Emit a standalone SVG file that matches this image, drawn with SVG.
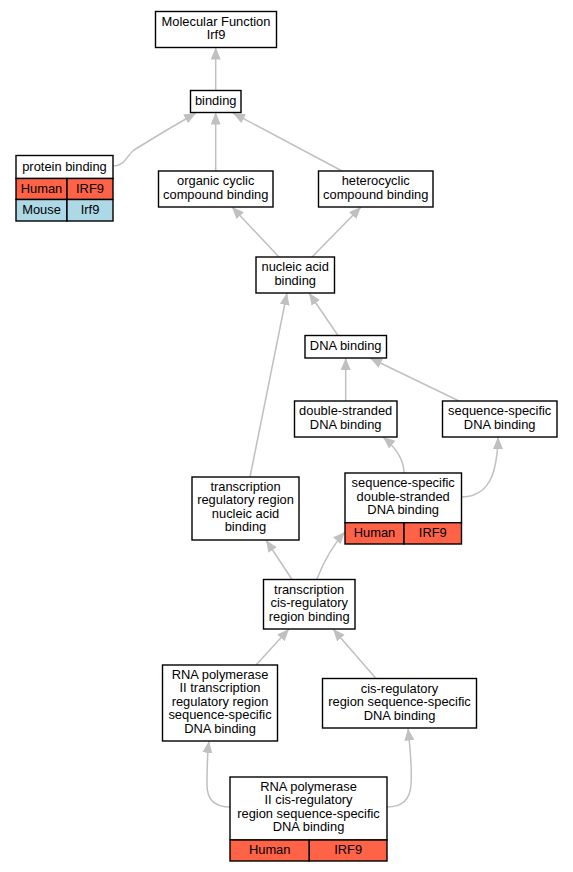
<svg xmlns="http://www.w3.org/2000/svg" width="573" height="872" viewBox="0 0 573 872">
<defs>
<marker id="ah" markerUnits="userSpaceOnUse" markerWidth="13" markerHeight="11" refX="12" refY="5" orient="auto">
<path d="M0,0 L12,5 L0,10 z" fill="#c0c0c0"/>
</marker>
<style>
.n rect{fill:#fff;stroke:#000;stroke-width:1.4}
.n rect.h{fill:#ff6347}
.n rect.m{fill:#add8e6}
text{font-family:"Liberation Sans",Arial,sans-serif;font-size:12.9px;text-anchor:middle;fill:#000}
#edges path{fill:none;stroke:#c0c0c0;stroke-width:1.5;marker-end:url(#ah)}
</style>
</defs>
<rect width="573" height="872" fill="#fff"/>
<g id="edges">
<path d="M215.7,90.5 L215.7,47.5"/>
<path d="M113.5,166 C125,166 126,156 134,150 C150,140 175,125 196,113"/>
<path d="M215.7,171 L215.7,112.5"/>
<path d="M342,171 L233,113"/>
<path d="M279,257 L232,207"/>
<path d="M312,257 L361,207"/>
<path d="M338,335.5 L309,293"/>
<path d="M250,477 L287,293"/>
<path d="M345.7,401 L345.7,358"/>
<path d="M459,401 L370,358"/>
<path d="M404,473 C404,460 395,447 383,437"/>
<path d="M461.5,497 C480,497 490,485 494,470 C497,458 498,447 498,437"/>
<path d="M292,579.5 L266,540"/>
<path d="M316.7,579.5 C322,566 330,548 345,532"/>
<path d="M256,665 L289,629"/>
<path d="M376,678.5 L333,629"/>
<path d="M230,807 C215,807 207,800 207,785 C207,770 207,755 209,741"/>
<path d="M387,807 C402,807 410,800 411,785 C412,770 411,755 408,728.5"/>
</g>
<g id="n1" class="n"><rect x="155.5" y="11.5" width="121" height="36"/><text x="216" y="26">Molecular Function</text><text x="216" y="39.4">Irf9</text></g>
<g id="n2" class="n"><rect x="190.5" y="90.5" width="50.5" height="22"/><text x="215.7" y="104.5">binding</text></g>
<g id="n3" class="n"><rect x="16" y="155.5" width="97" height="23"/><rect class="h" x="16" y="178.5" width="51" height="21"/><rect class="h" x="67" y="178.5" width="46" height="21"/><rect class="m" x="16" y="199.5" width="51" height="21.5"/><rect class="m" x="67" y="199.5" width="46" height="21.5"/><text x="64.5" y="171">protein binding</text><text x="41.5" y="192.5">Human</text><text x="90" y="192.5">IRF9</text><text x="41.5" y="214">Mouse</text><text x="90" y="214">Irf9</text></g>
<g id="n4" class="n"><rect x="158.5" y="171" width="114.5" height="36"/><text x="215.7" y="185.3">organic cyclic</text><text x="215.7" y="198.7">compound binding</text></g>
<g id="n5" class="n"><rect x="318.5" y="171" width="114.5" height="36"/><text x="375.7" y="185.3">heterocyclic</text><text x="375.7" y="198.7">compound binding</text></g>
<g id="n6" class="n"><rect x="256" y="257" width="78.5" height="36"/><text x="295.2" y="271.3">nucleic acid</text><text x="295.2" y="284.7">binding</text></g>
<g id="n7" class="n"><rect x="305" y="335.5" width="81.5" height="22.5"/><text x="345.7" y="350">DNA binding</text></g>
<g id="n8" class="n"><rect x="294.5" y="401" width="102.5" height="36"/><text x="345.7" y="415.3">double-stranded</text><text x="345.7" y="428.7">DNA binding</text></g>
<g id="n9" class="n"><rect x="442.5" y="401" width="114.5" height="36"/><text x="499.7" y="415.3">sequence-specific</text><text x="499.7" y="428.7">DNA binding</text></g>
<g id="n10" class="n"><rect x="192" y="477" width="107" height="63"/><text x="245.5" y="491">transcription</text><text x="245.5" y="504.4">regulatory region</text><text x="245.5" y="517.8">nucleic acid</text><text x="245.5" y="531.2">binding</text></g>
<g id="n11" class="n"><rect x="345" y="473" width="116.5" height="49.7"/><rect class="h" x="345" y="522.7" width="59" height="21.3"/><rect class="h" x="404" y="522.7" width="57.5" height="21.3"/><text x="403.2" y="487.3">sequence-specific</text><text x="403.2" y="500.7">double-stranded</text><text x="403.2" y="514.1">DNA binding</text><text x="374.5" y="537">Human</text><text x="432.8" y="537">IRF9</text></g>
<g id="n12" class="n"><rect x="263.5" y="579.5" width="91.5" height="49.5"/><text x="309.2" y="593.7">transcription</text><text x="309.2" y="607.1">cis-regulatory</text><text x="309.2" y="620.5">region binding</text></g>
<g id="n13" class="n"><rect x="162.5" y="665" width="115" height="76"/><text x="220" y="679">RNA polymerase</text><text x="220" y="692.4">II transcription</text><text x="220" y="705.8">regulatory region</text><text x="220" y="719.2">sequence-specific</text><text x="220" y="732.6">DNA binding</text></g>
<g id="n14" class="n"><rect x="322.5" y="678.5" width="154" height="49.5"/><text x="399.5" y="692.7">cis-regulatory</text><text x="399.5" y="706.1">region sequence-specific</text><text x="399.5" y="719.5">DNA binding</text></g>
<g id="n15" class="n"><rect x="230" y="777" width="157" height="63"/><rect class="h" x="230" y="840" width="79.3" height="21"/><rect class="h" x="309.3" y="840" width="77.7" height="21"/><text x="308.5" y="791">RNA polymerase</text><text x="308.5" y="804.4">II cis-regulatory</text><text x="308.5" y="817.8">region sequence-specific</text><text x="308.5" y="831.2">DNA binding</text><text x="269.7" y="854">Human</text><text x="348.2" y="854">IRF9</text></g>
</svg>
